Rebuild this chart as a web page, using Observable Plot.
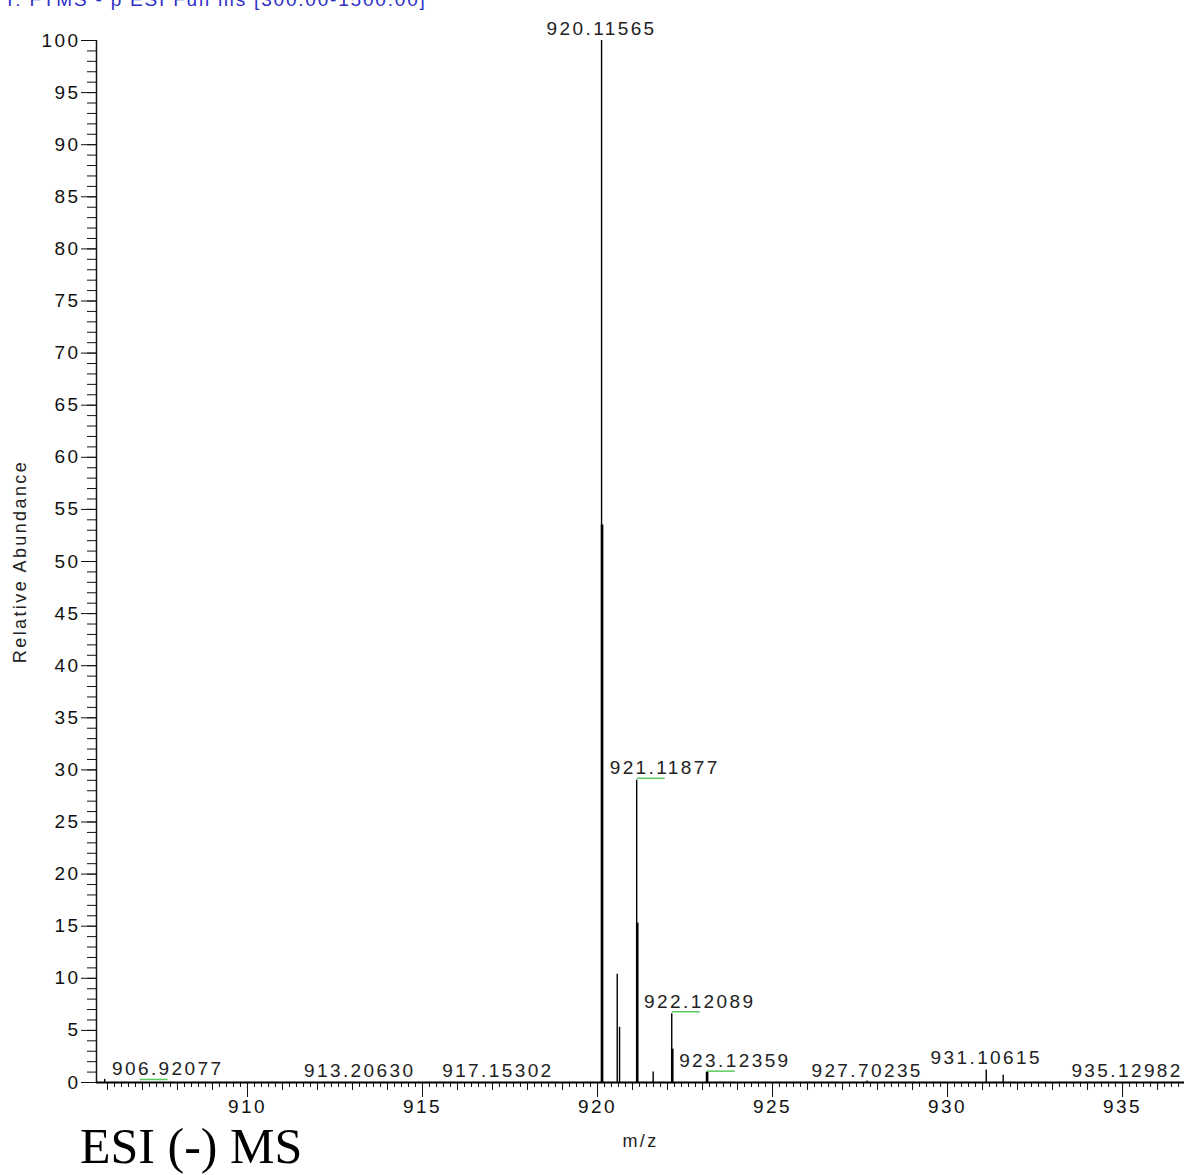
<!DOCTYPE html>
<html>
<head>
<meta charset="utf-8">
<script src="https://cdn.jsdelivr.net/npm/d3@7"></script>
<script src="https://cdn.jsdelivr.net/npm/@observablehq/plot@0.6"></script>
<style>
  html, body { margin: 0; padding: 0; background: #fff; }
  #wrap { position: relative; width: 1184px; height: 1175px; overflow: hidden; }
  #hdr { position: absolute; top: -11px; left: 4px; font: 19px "Liberation Sans", Arial, sans-serif; letter-spacing: 1.8px; color: #2f2fc8; white-space: nowrap; }
  #chart { position: absolute; top: 0; left: 0; }
  #cap { position: absolute; top: 1117px; left: 80px; font: 50px "Liberation Serif", "Times New Roman", serif; color: #000; white-space: nowrap; }
</style>
</head>
<body>
<div id="wrap">
  <div id="chart"></div>
  <div id="hdr">T: FTMS - p ESI Full ms [300.00-1500.00]</div>
  <div id="cap">ESI (-) MS</div>
</div>
<script>
// Centroid peaks (m/z, relative abundance)
const peakMz  = [905.92, 920.11565, 920.563, 920.63, 921.11877, 921.59, 922.12089, 923.12359, 927.70235, 931.10615, 931.59];
const peakAb  = [0.3,    100,       10.4,    5.3,    29.0,      1.0,    6.6,       0.9,       0.15,      1.2,       0.7];
// Profile shoulders drawn thicker next to the main peaks
const shoulderMz = [920.13, 921.135, 922.135, 923.13];
const shoulderAb = [53.5,   15.3,    3.2,     1.0];
// Peak labels
const labelMz   = [906.92077, 913.20630, 917.15302, 920.11565, 921.11877, 922.12089, 923.12359, 927.70235, 931.10615, 935.12982];
const labelAb   = [0.1,       0.0,       0.0,       100,       29.0,      6.6,       0.9,       0.0,       1.2,       0.0];
const labelText = ["906.92077","913.20630","917.15302","920.11565","921.11877","922.12089","923.12359","927.70235","931.10615","935.12982"];
const labelShifted = [true, false, false, false, true, true, true, false, false, false];
// Axis ticks
const xMajorTicks = [910, 915, 920, 925, 930, 935];
const yMajorTicks = [0,5,10,15,20,25,30,35,40,45,50,55,60,65,70,75,80,85,90,95,100];

const peaks = peakMz.map((mz, i) => ({mz, ab: peakAb[i]}));
const shoulders = shoulderMz.map((mz, i) => ({mz, ab: shoulderAb[i]}));
const labels = labelMz.map((mz, i) => ({mz, ab: labelAb[i], text: labelText[i], shifted: labelShifted[i]}));
const shiftedLabels = labels.filter(d => d.shifted);
const plainLabels = labels.filter(d => !d.shifted);

const xDomain = [905.686, 936.77];
const xMid = d3.range(906, 937, 1);
const xMinor = d3.range(0, 155).map(i => +(906 + i * 0.2).toFixed(1)).filter(v => v <= 936.7);
const yMinor = d3.range(0, 101, 1);

const chart = Plot.plot({
  width: 1184,
  height: 1175,
  marginLeft: 96,
  marginRight: 0,
  marginTop: 40,
  marginBottom: 93,
  style: {fontFamily: '"Liberation Sans", Arial, sans-serif', fontSize: "19px", letterSpacing: "2.4px", color: "#111", background: "transparent"},
  x: {domain: xDomain},
  y: {domain: [0, 100]},
  marks: [
    Plot.axisX({ticks: xMinor, tickSize: 5, text: null, label: null}),
    Plot.axisX({ticks: xMid, tickSize: 8, text: null, label: null}),
    Plot.axisX({ticks: xMajorTicks, tickSize: 15, tickPadding: 2, tickFormat: d => String(d), label: null}),
    Plot.axisY({ticks: yMinor, tickSize: 9, text: null, label: null}),
    Plot.axisY({ticks: yMajorTicks, tickSize: 15, tickPadding: 1, tickFormat: d => String(d), label: null}),
    Plot.ruleX([xDomain[0]], {stroke: "#111", strokeWidth: 1.5}),
    Plot.ruleY([0], {stroke: "#000", strokeWidth: 2}),
    Plot.ruleX(shoulders, {x: "mz", y1: 0, y2: "ab", stroke: "#000", strokeWidth: 2.6}),
    Plot.ruleX(peaks, {x: "mz", y1: 0, y2: "ab", stroke: "#000", strokeWidth: 1.4}),
    Plot.link(shiftedLabels, {x1: "mz", x2: d => d.mz + 0.8, y1: "ab", y2: "ab", dy: -2, stroke: "#5cc85c", strokeWidth: 1.5}),
    Plot.text(plainLabels, {x: "mz", y: "ab", text: "text", dy: -6, lineAnchor: "bottom", fill: "#222"}),
    Plot.text(shiftedLabels, {x: d => d.mz + 0.8, y: "ab", text: "text", dy: -6, lineAnchor: "bottom", fill: "#222"}),
    Plot.text(["Relative Abundance"], {frameAnchor: "left", textAnchor: "middle", dx: -76, rotate: -90, text: d => d, fontSize: 18, fill: "#222"}),
    Plot.text(["m/z"], {frameAnchor: "bottom", dy: 64, text: d => d, fontSize: 18, fill: "#222"})
  ]
});
document.getElementById("chart").appendChild(chart);
</script>
</body>
</html>
